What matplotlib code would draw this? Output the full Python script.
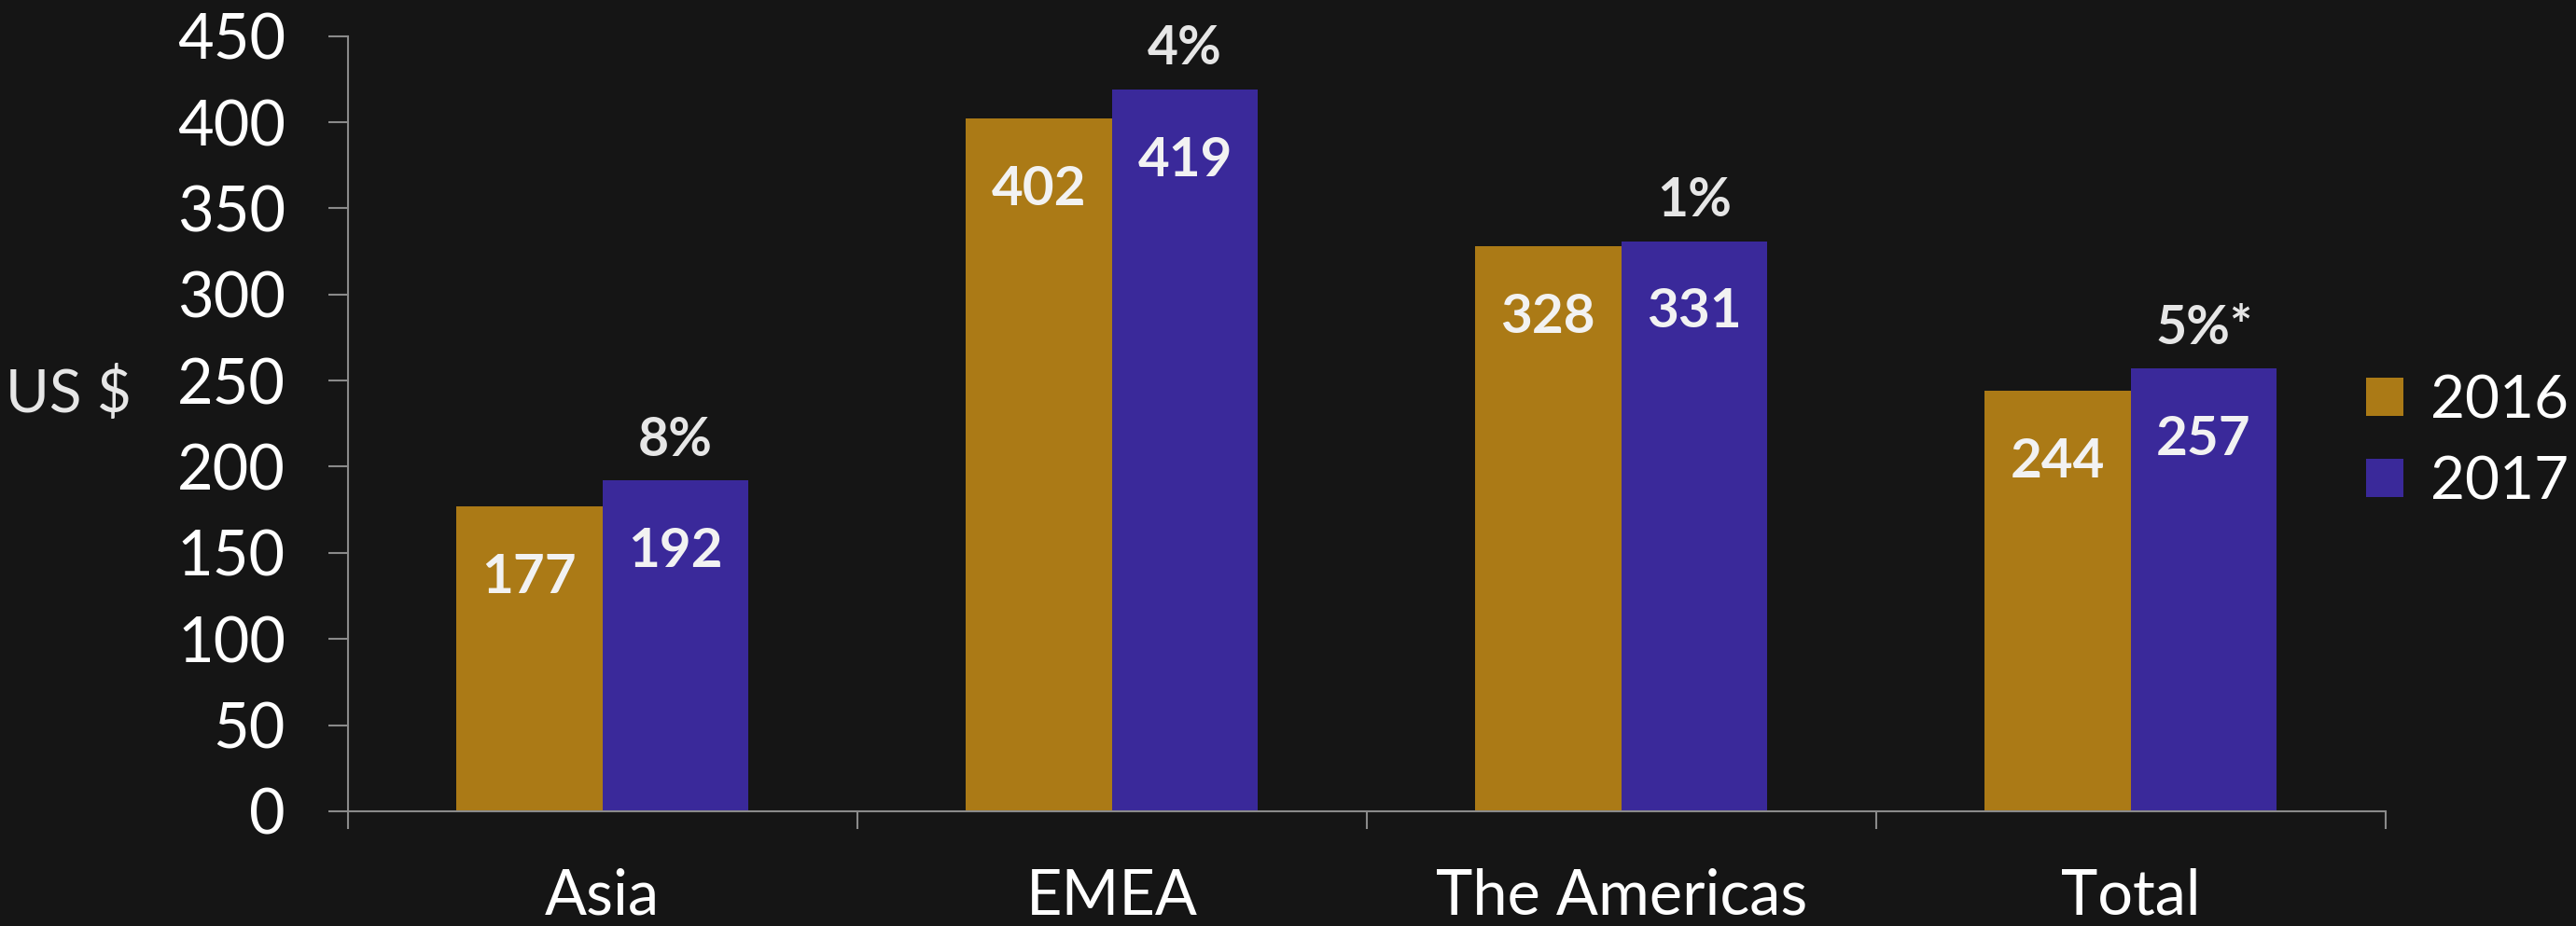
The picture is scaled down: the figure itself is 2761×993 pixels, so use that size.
import matplotlib.pyplot as plt
from matplotlib.patches import Patch
import numpy as np

# Dados do gráfico
categories = ["Asia", "EMEA", "The Americas", "Total"]
series_names = ["2016", "2017"]
values_2016 = [177, 402, 328, 244]
values_2017 = [192, 419, 331, 257]
growth_labels = ["8%", "4%", "1%", "5%*"]
y_ticks = [0, 50, 100, 150, 200, 250, 300, 350, 400, 450]

bg = "#151515"
gold = "#AB7A16"
purple = "#3A299A"
spine_grey = "#8A8A8A"

plt.rcParams["font.family"] = ["Lato", "DejaVu Sans"]

fig = plt.figure(figsize=(27.61, 9.93), dpi=100, facecolor=bg)
ax = fig.add_axes([0.135, 0.124, 0.791, 0.837])
ax.set_facecolor(bg)

x = np.arange(len(categories))
w = 0.287
bars16 = ax.bar(x - w / 2, values_2016, width=w, color=gold)
bars17 = ax.bar(x + w / 2, values_2017, width=w, color=purple)

# Rótulos de valor dentro das barras
for bars in (bars16, bars17):
    for b in bars:
        ax.annotate(f"{b.get_height():.0f}",
                    (b.get_x() + b.get_width() / 2, b.get_height()),
                    xytext=(0, -55), textcoords="offset points",
                    ha="center", va="center", fontsize=42,
                    fontweight="bold", color="#F2F2F2")

# Crescimento acima das barras de 2017
for b, g in zip(bars17, growth_labels):
    ax.annotate(g, (b.get_x() + b.get_width() / 2, b.get_height()),
                xytext=(0, 12), textcoords="offset points",
                ha="center", va="bottom", fontsize=41,
                fontweight="bold", color="#E6E6E6")

ax.set_ylim(0, 450)
ax.set_xlim(-0.5, len(categories) - 0.5)
ax.set_yticks(y_ticks)
ax.set_yticklabels([str(t) for t in y_ticks])
ax.set_xticks(x)
ax.set_xticklabels(categories)
ax.set_xticks(np.arange(len(categories) + 1) - 0.5, minor=True)

ax.tick_params(axis="y", colors=spine_grey, labelcolor="white",
               labelsize=48, length=15, width=1.5, pad=33)
ax.tick_params(axis="x", which="major", length=0, labelcolor="white",
               labelsize=48, pad=44)
ax.tick_params(axis="x", which="minor", colors=spine_grey, length=14,
               width=1.5)

for side in ("top", "right"):
    ax.spines[side].set_visible(False)
for side in ("left", "bottom"):
    ax.spines[side].set_color(spine_grey)
    ax.spines[side].set_linewidth(1.5)

fig.text(0.002, 0.574, "US $", fontsize=46, color="#E6E6E6",
         ha="left", va="center")

handles = [Patch(facecolor=gold, label=series_names[0]),
           Patch(facecolor=purple, label=series_names[1])]
leg = fig.legend(handles=handles, loc="center left",
                 bbox_to_anchor=(0.907, 0.523), frameon=False,
                 fontsize=46, handlelength=0.62, handleheight=0.62,
                 handletextpad=0.45, labelspacing=0.45, borderpad=0)
for t in leg.get_texts():
    t.set_color("white")

plt.savefig("out.png", dpi=100, facecolor=bg)
plt.close()
